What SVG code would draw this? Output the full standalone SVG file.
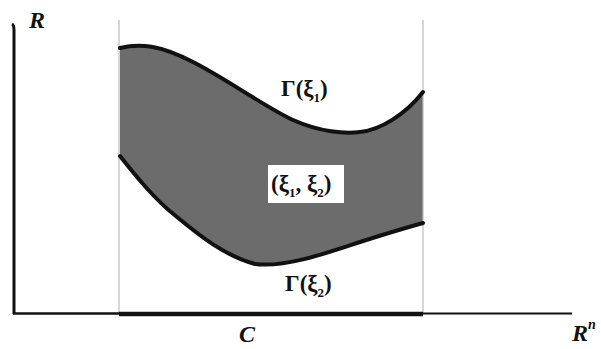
<svg xmlns="http://www.w3.org/2000/svg" width="601" height="349" viewBox="0 0 601 349">
<style>
.lbl{font-family:"Liberation Serif","Times New Roman",serif;font-weight:bold;font-size:23px;fill:#111}
.ax{font-family:"Liberation Serif","Times New Roman",serif;font-weight:bold;font-style:italic;font-size:24px;fill:#111}
.sub{font-size:13px}
.curve{fill:none;stroke:#111;stroke-width:4;stroke-linecap:round}
.guide{stroke:#bbb;stroke-width:1.2;fill:none}
</style>
<rect width="601" height="349" fill="#fff"/>
<g id="region">
<path d="M120,48 C140,43 160,45 193,62 C225,78 265,107 293,120 C320,132 345,134 360,132 C380,130 405,115 423,92 L423,223 C405,228 385,234 360,242 C330,252 285,268 255,264 C225,256 200,236 177,217 C155,200 135,175 120,156 Z" fill="#6c6c6c"/>
</g>
<g id="guides">
<line class="guide" x1="119" y1="20" x2="119" y2="313"/>
<line class="guide" x1="423" y1="20" x2="423" y2="313"/>
</g>
<g id="axes">
<path d="M12,24 Q14,25 14,30 L14,314" fill="none" stroke="#111" stroke-width="3"/>
<line x1="13" y1="313.5" x2="119" y2="313.5" stroke="#111" stroke-width="2.5"/>
<line x1="119" y1="314" x2="423" y2="314" stroke="#111" stroke-width="4.5"/>
<line x1="423" y1="313.5" x2="572" y2="313.5" stroke="#111" stroke-width="2"/>
</g>
<g id="connectors">
<path id="gamma1" class="curve" d="M120,48 C140,43 160,45 193,62 C225,78 265,107 293,120 C320,132 345,134 360,132 C380,130 405,115 423,92"/>
<path id="gamma2" class="curve" d="M120,156 C135,175 155,200 177,217 C200,236 225,256 255,264 C285,268 330,252 360,242 C385,234 405,228 423,223"/>
</g>
<g id="label-gamma1">
<text class="lbl" x="281" y="96">Γ(ξ<tspan class="sub" dy="6">1</tspan><tspan dy="-6">)</tspan></text>
</g>
<g id="label-xi">
<rect x="268" y="165" width="76" height="38" fill="#fff"/>
<text class="lbl" x="271" y="191">(ξ<tspan class="sub" dy="6">1</tspan><tspan dy="-6">, ξ</tspan><tspan class="sub" dy="6">2</tspan><tspan dy="-6">)</tspan></text>
</g>
<g id="label-gamma2">
<text class="lbl" x="285" y="291">Γ(ξ<tspan class="sub" dy="6">2</tspan><tspan dy="-6">)</tspan></text>
</g>
<g id="label-R"><text class="ax" x="29" y="28">R</text></g>
<g id="label-C"><text class="ax" x="239" y="342">C</text></g>
<g id="label-Rn"><text class="ax" x="572" y="341">R<tspan font-size="14" dy="-12">n</tspan></text></g>
</svg>
